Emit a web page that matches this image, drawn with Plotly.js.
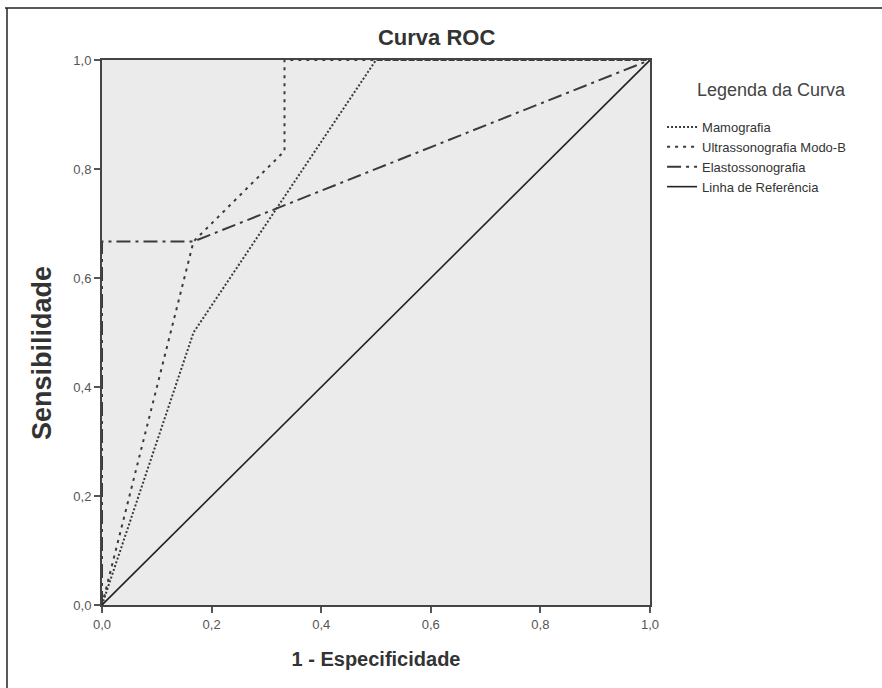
<!DOCTYPE html>
<html>
<head>
<meta charset="utf-8">
<script src="https://cdn.plot.ly/plotly-3.0.1.min.js"></script>
<style>html,body{margin:0;padding:0;background:#fff;}#chart{width:882px;height:688px;}</style>
</head>
<body>
<div id="chart"></div>
<script>
// Data
const seriesNames = ["Mamografia", "Ultrassonografia Modo-B", "Elastossonografia", "Linha de Referência"];
const mamoX = [0, 0.167, 0.5, 1];
const mamoY = [0, 0.5, 1, 1];
const usX = [0, 0.167, 0.333, 0.333, 1];
const usY = [0, 0.667, 0.833, 1, 1];
const elastoX = [0, 0, 0.167, 1];
const elastoY = [0, 0.667, 0.667, 1];
const refX = [0, 1];
const refY = [0, 1];
const tickVals = [0, 0.2, 0.4, 0.6, 0.8, 1.0];
const legendTitle = "Legenda da Curva";
const yTitle = "Sensibilidade";
const xTitle = "1 - Especificidade";

const lineColor = "#3a3a3a";
const traces = [
  {x: mamoX, y: mamoY, name: seriesNames[0], mode: "lines", line: {color: lineColor, width: 2, dash: "2px,2px"}},
  {x: usX, y: usY, name: seriesNames[1], mode: "lines", line: {color: lineColor, width: 2, dash: "3px,5px"}},
  {x: elastoX, y: elastoY, name: seriesNames[2], mode: "lines", line: {color: lineColor, width: 2, dash: "14px,5px,3px,5px"}},
  {x: refX, y: refY, name: seriesNames[3], mode: "lines", line: {color: "#222", width: 1.6}}
];

const axisCommon = {
  range: [0, 1],
  tickvals: tickVals,
  tickformat: ".1f",
  ticks: "outside",
  ticklen: 6,
  tickwidth: 2,
  tickcolor: "#555",
  showline: true,
  linecolor: "#444",
  linewidth: 2,
  mirror: true,
  showgrid: false,
  zeroline: false,
  fixedrange: true,
  tickfont: {family: "Liberation Sans, Arial, sans-serif", size: 13, color: "#555"}
};

const layout = {
  width: 882,
  height: 688,
  separators: ",.",
  margin: {l: 102, r: 232, t: 60, b: 83},
  paper_bgcolor: "#ffffff",
  plot_bgcolor: "#ebebeb",
  font: {family: "Liberation Sans, Arial, sans-serif", color: "#333"},
  title: {
    text: "<b>Curva ROC</b>",
    font: {size: 22, color: "#333"},
    x: 0.495, xref: "container", xanchor: "center",
    y: 1 - 37/688, yref: "container", yanchor: "middle"
  },
  xaxis: Object.assign({}, axisCommon, {
    title: {text: "<b>" + xTitle + "</b>", font: {size: 20, color: "#333"}, standoff: 21}
  }),
  yaxis: Object.assign({}, axisCommon),
  showlegend: true,
  legend: {
    x: 1.022, y: (605-112)/545, xanchor: "left", yanchor: "top",
    bgcolor: "rgba(0,0,0,0)",
    font: {size: 13, color: "#333"},
    itemwidth: 30,
    tracegroupgap: 0
  },
  annotations: [
    {text: legendTitle, xref: "paper", yref: "paper", x: (771-102)/548, y: (605-90)/545,
     xanchor: "center", yanchor: "middle", showarrow: false, font: {size: 18, color: "#444"}},
    {text: "<b>" + yTitle + "</b>", xref: "paper", yref: "paper", x: (42-102)/548, y: (605-353)/545,
     xanchor: "center", yanchor: "middle", textangle: -90, showarrow: false, font: {size: 27, color: "#333"}}
  ],
  shapes: [
    {type: "line", xref: "paper", yref: "paper", x0: (5-102)/548, x1: (882-102)/548, y0: (605-8)/545, y1: (605-8)/545, line: {color: "#222", width: 1.5}},
    {type: "line", xref: "paper", yref: "paper", x0: (7-102)/548, x1: (7-102)/548, y0: (605-8)/545, y1: (605-690)/545, line: {color: "#222", width: 1.5}}
  ]
};

Plotly.newPlot("chart", traces, layout, {displayModeBar: false, staticPlot: true});
</script>
</body>
</html>
